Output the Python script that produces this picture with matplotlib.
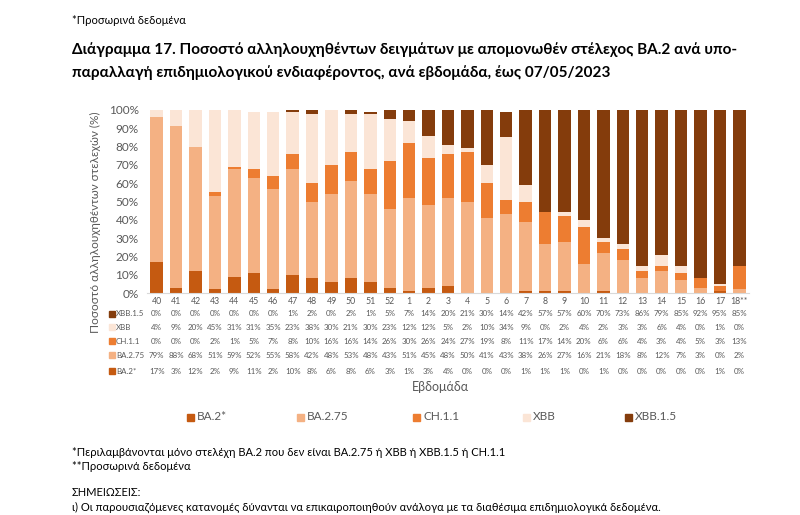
import matplotlib
matplotlib.use("Agg")
import matplotlib.pyplot as plt
from matplotlib.patches import Rectangle
import numpy as np

plt.rcParams['font.family'] = ['Lato', 'DejaVu Sans']

weeks = ['40','41','42','43','44','45','46','47','48','49','50','51','52',
         '1','2','3','4','5','6','7','8','9','10','11','12','13','14','15','16','17','18**']
ba2 = [17,3,12,2,9,11,2,10,8,6,8,6,3, 1,3,4,0,0,0,1,1,1,0,1,0,0,0,0,0,1,0]
ba275 = [79,88,68,51,59,52,55,58,42,48,53,48,43, 51,45,48,50,41,43,38,26,27,16,21,18,8,12,7,3,0,2]
ch11 = [0,0,0,2,1,5,7,8,10,16,16,14,26, 30,26,24,27,19,8,11,17,14,20,6,6,4,3,4,5,3,13]
xbb = [4,9,20,45,31,31,35,23,38,30,21,30,23, 12,12,5,2,10,34,9,0,2,4,2,3,3,6,4,0,1,0]
xbb15 = [0,0,0,0,0,0,0,1,2,0,2,1,5, 7,14,20,21,30,14,42,57,57,60,70,73,86,79,85,92,95,85]

series = [('BA.2*', ba2, '#C55A11'), ('BA.2.75', ba275, '#F4B183'),
          ('CH.1.1', ch11, '#ED7D31'), ('XBB', xbb, '#FBE5D6'),
          ('XBB.1.5', xbb15, '#843C0C')]

W, H = 800, 515
fig = plt.figure(figsize=(8, 5.15), dpi=100)

def fx(px): return px / W
def fy(py): return 1 - py / H

L, R, T, B = 147, 749, 110, 293
ax = fig.add_axes([fx(L), fy(B), fx(R) - fx(L), fy(T) - fy(B)])
x = np.arange(len(weeks))
bottom = np.zeros(len(weeks))
for name, vals, col in series:
    v = np.array(vals, dtype=float)
    ax.bar(x, v, 0.64, bottom=bottom, color=col, label=name, zorder=2)
    bottom += v
ax.set_xlim(-0.5, len(weeks) - 0.5)
ax.set_ylim(0, 100)
ax.set_yticks(np.arange(0, 101, 10))
ax.set_yticklabels([f'{v}%' for v in range(0, 101, 10)], fontsize=8.5, color='#595959')
ax.set_xticks([])
for s in ['top', 'right', 'left']:
    ax.spines[s].set_visible(False)
ax.spines['bottom'].set_color('#D9D9D9')
ax.tick_params(axis='y', length=0, pad=6)

fig.text(fx(95), fy(222), 'Ποσοστό αλληλουχηθέντων στελεχών (%)', rotation=90,
         ha='center', va='center', fontsize=8.5, color='#595959')

# data table
def colx(i):
    return fx(L + (i + 0.5) * (R - L) / len(weeks))

tc = '#595959'
for i, w in enumerate(weeks):
    fig.text(colx(i), fy(301), w, ha='center', va='center', fontsize=6.3, color=tc)
rows = [('XBB.1.5', xbb15, '#843C0C', 314), ('XBB', xbb, '#FBE5D6', 327),
        ('CH.1.1', ch11, '#ED7D31', 341), ('BA.2.75', ba275, '#F4B183', 355),
        ('BA.2*', ba2, '#C55A11', 371)]
for name, vals, col, py in rows:
    fig.patches.append(Rectangle((fx(109), fy(py + 3)), fx(6), 6 / H, color=col,
                                 transform=fig.transFigure, figure=fig))
    fig.text(fx(116), fy(py), name, ha='left', va='center', fontsize=5.7, color=tc)
    for i, v in enumerate(vals):
        fig.text(colx(i), fy(py), f'{v}%', ha='center', va='center', fontsize=5.7, color=tc)

fig.text(fx(440), fy(387), 'Εβδομάδα', ha='center', va='center', fontsize=9, color='#595959')

legx = [187, 297, 413, 523, 625]
for (name, vals, col), lx in zip(series, legx):
    fig.patches.append(Rectangle((fx(lx), fy(421)), fx(7), 7 / H, color=col,
                                 transform=fig.transFigure, figure=fig))
    fig.text(fx(lx + 10), fy(417), name, ha='left', va='center', fontsize=8.5, color='#595959')

fig.text(fx(72), fy(20), '*Προσωρινά δεδομένα', ha='left', va='center', fontsize=8, color='black')
fig.text(fx(72), fy(50), 'Διάγραμμα 17. Ποσοστό αλληλουχηθέντων δειγμάτων με απομονωθέν στέλεχος BA.2 ανά υπο-',
         ha='left', va='center', fontsize=11, fontweight='bold', color='black')
fig.text(fx(72), fy(73), 'παραλλαγή επιδημιολογικού ενδιαφέροντος, ανά εβδομάδα, έως 07/05/2023',
         ha='left', va='center', fontsize=11, fontweight='bold', color='black')

fs = 8
fig.text(fx(72), fy(452), '*Περιλαμβάνονται μόνο στελέχη BA.2 που δεν είναι BA.2.75 ή XBB ή XBB.1.5 ή CH.1.1',
         ha='left', va='center', fontsize=fs, color='black')
fig.text(fx(72), fy(466), '**Προσωρινά δεδομένα', ha='left', va='center', fontsize=fs, color='black')
fig.text(fx(72), fy(492), 'ΣΗΜΕΙΩΣΕΙΣ:', ha='left', va='center', fontsize=fs, color='black')
fig.text(fx(72), fy(507), 'ι) Οι παρουσιαζόμενες κατανομές δύνανται να επικαιροποιηθούν ανάλογα με τα διαθέσιμα επιδημιολογικά δεδομένα.',
         ha='left', va='center', fontsize=fs, color='black')

fig.savefig('out.png', dpi=100, facecolor='white')
